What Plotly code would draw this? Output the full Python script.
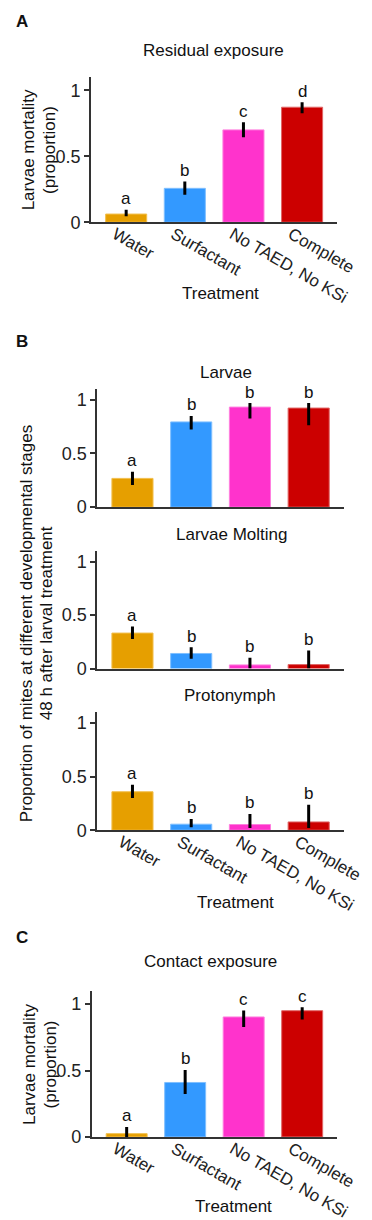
import plotly.graph_objects as go

# ---------------- data ----------------
categories = ["Water", "Surfactant", "No TAED, No KSi", "Complete"]
bar_colors = ["#E69F00", "#3399FF", "#FF33CC", "#CC0000"]
edge_colors = ["#F2BF4D", "#7FBFFF", "#FF7FDF", "#E06666"]

residual_mean = [0.062, 0.257, 0.700, 0.872]
residual_plus = [0.033, 0.051, 0.058, 0.038]
residual_minus = [0.017, 0.049, 0.055, 0.045]
residual_letters = ["a", "b", "c", "d"]

larvae_mean = [0.268, 0.794, 0.932, 0.923]
larvae_plus = [0.061, 0.056, 0.038, 0.047]
larvae_minus = [0.062, 0.071, 0.107, 0.160]
larvae_letters = ["a", "b", "b", "b"]

molting_mean = [0.332, 0.141, 0.034, 0.037]
molting_plus = [0.061, 0.059, 0.067, 0.132]
molting_minus = [0.056, 0.049, 0.034, 0.037]
molting_letters = ["a", "b", "b", "b"]

proto_mean = [0.358, 0.056, 0.053, 0.077]
proto_plus = [0.065, 0.049, 0.098, 0.161]
proto_minus = [0.058, 0.028, 0.032, 0.056]
proto_letters = ["a", "b", "b", "b"]

contact_mean = [0.025, 0.410, 0.903, 0.950]
contact_plus = [0.050, 0.094, 0.049, 0.027]
contact_minus = [0.025, 0.087, 0.075, 0.067]
contact_letters = ["a", "b", "c", "c"]

y_tickvals = [0, 0.5, 1]
y_ticktext = ["0", "0.5", "1"]

# ---------------- layout helpers ----------------
W, H = 372, 1220
FONT = "Liberation Sans, Arial, sans-serif"
FS = 17
AXC = "#333333"


def px(x):
    return x / W


def py(y):
    return 1 - y / H


panels = [
    # (mean, plus, minus, letters, x pixel span, y0 pixel, ytop pixel, show x labels)
    (residual_mean, residual_plus, residual_minus, residual_letters, (87.7, 348), 216.0, 69.7, True),
    (larvae_mean, larvae_plus, larvae_minus, larvae_letters, (94.3, 355), 503.3, 384.2, False),
    (molting_mean, molting_plus, molting_minus, molting_letters, (94.3, 355), 666.0, 547.5, False),
    (proto_mean, proto_plus, proto_minus, proto_letters, (94.3, 355), 829.0, 709.9, True),
    (contact_mean, contact_plus, contact_minus, contact_letters, (88.3, 348), 1138.3, 990.9, True),
]

fig = go.Figure()
annotations = []
layout = {}

for i, (mean, plus, minus, letters, xs, y0, ytop, showx) in enumerate(panels):
    n = i + 1
    xa = "x" if n == 1 else f"x{n}"
    ya = "y" if n == 1 else f"y{n}"
    fig.add_trace(go.Bar(
        x=categories, y=mean,
        marker=dict(color=bar_colors, line=dict(color=edge_colors, width=1)),
        width=0.7,
        error_y=dict(type="data", symmetric=False, array=plus, arrayminus=minus,
                     color="black", thickness=3, width=0),
        xaxis=xa, yaxis=ya, showlegend=False, hoverinfo="skip",
    ))
    xkey = "xaxis" if n == 1 else f"xaxis{n}"
    ykey = "yaxis" if n == 1 else f"yaxis{n}"
    layout[xkey] = dict(
        domain=[px(xs[0]), px(xs[1])], anchor=ya, range=[-0.6, 3.6],
        showline=True, linecolor=AXC, linewidth=1.5, ticks="",
        showticklabels=showx, tickangle=30,
        ticklabelshift=-11, ticklabelstandoff=-6,
        tickfont=dict(family=FONT, size=FS, color="#222"),
        showgrid=False, zeroline=False, fixedrange=True,
    )
    layout[ykey] = dict(
        domain=[py(y0), py(ytop)], anchor=xa, range=[0, 1.1],
        showline=True, linecolor=AXC, linewidth=1.5,
        ticks="outside", ticklen=5, tickwidth=1.5, tickcolor=AXC,
        tickvals=y_tickvals, ticktext=y_ticktext,
        tickfont=dict(family=FONT, size=18, color="#222"),
        showgrid=False, zeroline=False, fixedrange=True,
    )
    for c, m, p, lt in zip(categories, mean, plus, letters):
        annotations.append(dict(
            x=c, y=m + p, xref=xa, yref=ya, text=lt, showarrow=False,
            yanchor="middle", yshift=11,
            font=dict(family=FONT, size=FS, color="#111"),
        ))

# subplot titles
titles = [("Residual exposure", 217, 43), ("Larvae", 230, 368), ("Larvae Molting", 237, 531),
          ("Protonymph", 235, 693), ("Contact exposure", 214, 961)]
for t, x, y in titles:
    annotations.append(dict(text=t, x=px(x), y=py(y), xref="paper", yref="paper",
                            showarrow=False, xanchor="center", yanchor="middle",
                            font=dict(family=FONT, size=FS, color="#111")))

# x axis titles
for x, y in [(225, 288), (240, 902), (238, 1208)]:
    annotations.append(dict(text="Treatment", x=px(x), y=py(y), xref="paper", yref="paper",
                            showarrow=False, xanchor="center", yanchor="middle",
                            font=dict(family=FONT, size=FS, color="#111")))

# y axis titles (one annotation per line)
ytitles = [("Larvae mortality", 21.7, 143), ("(proportion)", 44.5, 143),
           ("Proportion of mites at different developmental stages", 19.5, 620),
           ("48 h after larval treatment", 41.5, 620),
           ("Larvae mortality", 23, 1065), ("(proportion)", 44.5, 1065)]
for t, x, y in ytitles:
    annotations.append(dict(text=t, x=px(x), y=py(y), xref="paper", yref="paper",
                            showarrow=False, xanchor="center", yanchor="middle", textangle=-90,
                            font=dict(family=FONT, size=FS, color="#111")))

# panel labels
for t, y in [("A", 14), ("B", 336), ("C", 937)]:
    annotations.append(dict(text=f"<b>{t}</b>", x=px(6), y=py(y), xref="paper", yref="paper",
                            showarrow=False, xanchor="left", yanchor="middle",
                            font=dict(family=FONT, size=FS, color="#111")))

fig.update_layout(
    width=W, height=H,
    margin=dict(l=0, r=0, t=0, b=0),
    paper_bgcolor="white", plot_bgcolor="white",
    bargap=0.3,
    annotations=annotations,
    **layout,
)

fig.write_html("out.html")
